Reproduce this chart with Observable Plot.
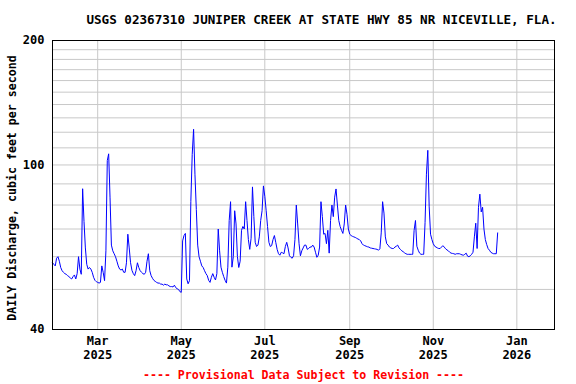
<!DOCTYPE html>
<html>
<head>
<meta charset="utf-8">
<script src="https://cdn.jsdelivr.net/npm/d3@7"></script>
<script src="https://cdn.jsdelivr.net/npm/@observablehq/plot@0.6"></script>
<style>
  html, body { margin: 0; padding: 0; background: #fff; }
</style>
</head>
<body>
<div id="chart"></div>
<script>
// ---- data ----
const titleText = "USGS 02367310 JUNIPER CREEK AT STATE HWY 85 NR NICEVILLE, FLA.";
const yTitle = "DAILY Discharge, cubic feet per second";
const captionText = "---- Provisional Data Subject to Revision ----";

const firstDay = "2025-01-27";           // first daily value
// Daily mean discharge, cfs (one value per day from firstDay)
const flowCfs = [
  // late Jan - Feb
  58, 57.5, 57, 59.5, 60, 58.5, 56.5, 55.5, 55, 54.6,
  54.4, 54, 53.7, 53.3, 53, 53.7, 54.2, 53,
  54.6, 60, 56, 54.4, 87.6, 73, 63, 57.5, 56, 56.5, 56, 55,
  53.5, 52.6, 52.2, 52, 51.8, 52, 57, 55, 52.5, 62,
  // March
  102.5, 106.4, 83.6, 64, 62, 61, 60, 58.5, 57, 56, 55.7, 56, 55, 55,
  58, 68, 63, 58, 55.6, 54.6, 54, 55.5, 58, 56.5, 55.5, 55, 54.6, 54.4, 55, 58.5, 61,
  // April
  55.5, 54, 53.2, 52.6, 52.3, 52, 51.8, 51.8, 51.5, 51.5, 51.2, 51.5, 51.3, 51.3,
  51, 50.8, 50.8, 50.7, 51.2, 50.5, 50.2, 50, 49.4, 49.2,
  // May
  65.5, 67.5, 68.3, 53, 51.6, 52.5, 81.5, 106, 122, 95, 78, 64, 60, 58.5, 57, 56.5, 55.5, 54.6,
  54, 52.6, 52, 53.5, 54.6, 53.5, 52.7, 54.6, 70, 62, 56.6, 55, 53.7, 52.6, 51.8,
  // June
  56.6, 73.4, 81.5, 56.6, 60, 77.5, 72, 60, 56.5, 58.5, 69.5, 71, 70, 81.5, 73.4,
  66, 62.5, 66.5, 88.5, 75, 65, 63.5, 64, 67, 73.4, 77.5, 89, 84,
  // July
  77.5, 71, 65, 63.5, 63.8, 66, 67.5, 65, 62.5, 61, 60.5, 61.5, 61.3, 61, 63.5,
  65, 63, 60.3, 59.8, 59.5, 60.3, 66, 80, 72, 64.5, 60.3, 62, 63, 64, 64,
  // August
  62.5, 62.8, 63.3, 63.3, 64, 63.3, 61.5, 59.8, 60.5, 63.3, 81.5, 75, 68, 68.3,
  64.5, 69.5, 61.2, 73.4, 80, 75, 83.6, 87.5, 80, 73.4, 71, 69.5, 68.3, 72, 80, 76,
  // September
  70, 68, 67.5, 67.2, 67, 66.8, 66.5, 66.2, 66, 65.5, 64.5, 64, 63.8,
  63.6, 63.4, 63.3, 63, 62.9, 62.8, 62.7, 62.6, 62.5, 62.2, 62.7,
  68.5, 81.5, 76.5, 67, 64.5, 64, 63.3, 63,
  // October
  62.8, 62.8, 63.3, 63.6, 64, 63, 62.5, 62, 61.7, 61.3, 61, 60.8, 60.8, 60.8, 60.8, 60.8,
  69.5, 73.4, 63.6, 62.2, 61.2, 60.8, 60.8, 60.8, 72.5, 95, 108.5, 79.5, 68, 66,
  // November
  64.5, 63.6, 63.3, 63, 62.8, 62.8, 63.3, 63.8, 63.3,
  62.7, 62.3, 62, 61.5, 61.2, 61.1, 61, 60.8, 61, 61, 61, 60.8, 60.6, 60.5, 60.8,
  61.2, 60.2, 60, 60.3, 60.8, 61.5,
  // December
  67, 72.3, 62.8, 79, 85, 77, 79, 70, 66, 64.2, 62.8, 62.2, 61.5, 61.2, 61, 61, 61, 68.5
];

const yDomain = [40, 200];
const yGridValues = [50, 60, 70, 80, 90, 100, 110, 120, 130, 140, 150, 160, 170, 180, 190];
const yTickLabels = [40, 100, 200];
const monthTicks = ["2025-03-01", "2025-05-01", "2025-07-01", "2025-09-01", "2025-11-01", "2026-01-01"];
const monthNames = ["Mar", "May", "Jul", "Sep", "Nov", "Jan"];
const xDomain = ["2025-01-27T00:00Z", "2026-01-28T12:00Z"];

// ---- build table ----
const start = new Date(firstDay + "T00:00Z");
const series = flowCfs.map((v, i) => ({date: d3.utcDay.offset(start, i), cfs: v}));
const tickDates = monthTicks.map(s => new Date(s + "T00:00Z"));
const tickRows = tickDates.map((d, i) => ({date: d, month: monthNames[i], year: String(d.getUTCFullYear())}));

const font = "DejaVu Sans Mono";
const common = {fontWeight: "bold", fill: "black", lineAnchor: "middle"};

const chart = Plot.plot({
  width: 576,
  height: 384,
  marginLeft: 52,
  marginRight: 22,
  marginTop: 40,
  marginBottom: 55,
  style: {background: "white", fontFamily: font, fontWeight: "bold", overflow: "visible"},
  x: {type: "utc", domain: xDomain.map(s => new Date(s)), axis: null},
  y: {type: "log", domain: yDomain, axis: null},
  marks: [
    Plot.ruleY(yGridValues, {stroke: "#c8c8c8", strokeWidth: 1}),
    Plot.ruleX(tickDates, {stroke: "#c8c8c8", strokeWidth: 1}),
    Plot.line(series, {x: "date", y: "cfs", stroke: "#0000ff", strokeWidth: 1, curve: "linear"}),
    Plot.frame({stroke: "black", strokeWidth: 1}),
    Plot.text(yTickLabels, {...common, y: d => d, frameAnchor: "left", dx: -8, textAnchor: "end", text: d => String(d), fontSize: 12}),
    Plot.text(tickRows, {...common, x: "date", frameAnchor: "bottom", dy: 12, textAnchor: "middle", text: "month", fontSize: 12}),
    Plot.text(tickRows, {...common, x: "date", frameAnchor: "bottom", dy: 26, textAnchor: "middle", text: "year", fontSize: 12}),
    Plot.text([titleText], {...common, frameAnchor: "top", dy: -21, dx: 18, textAnchor: "middle", text: d => d, fontSize: 12.6}),
    Plot.text([yTitle], {...common, frameAnchor: "left", dx: -40, dy: 3, rotate: -90, textAnchor: "middle", text: d => d, fontSize: 11.6}),
    Plot.text([captionText], {...common, frameAnchor: "bottom", dy: 46, textAnchor: "middle", text: d => d, fontSize: 11.6, fill: "#ff0000"})
  ]
});
document.getElementById("chart").appendChild(chart);
</script>
</body>
</html>
